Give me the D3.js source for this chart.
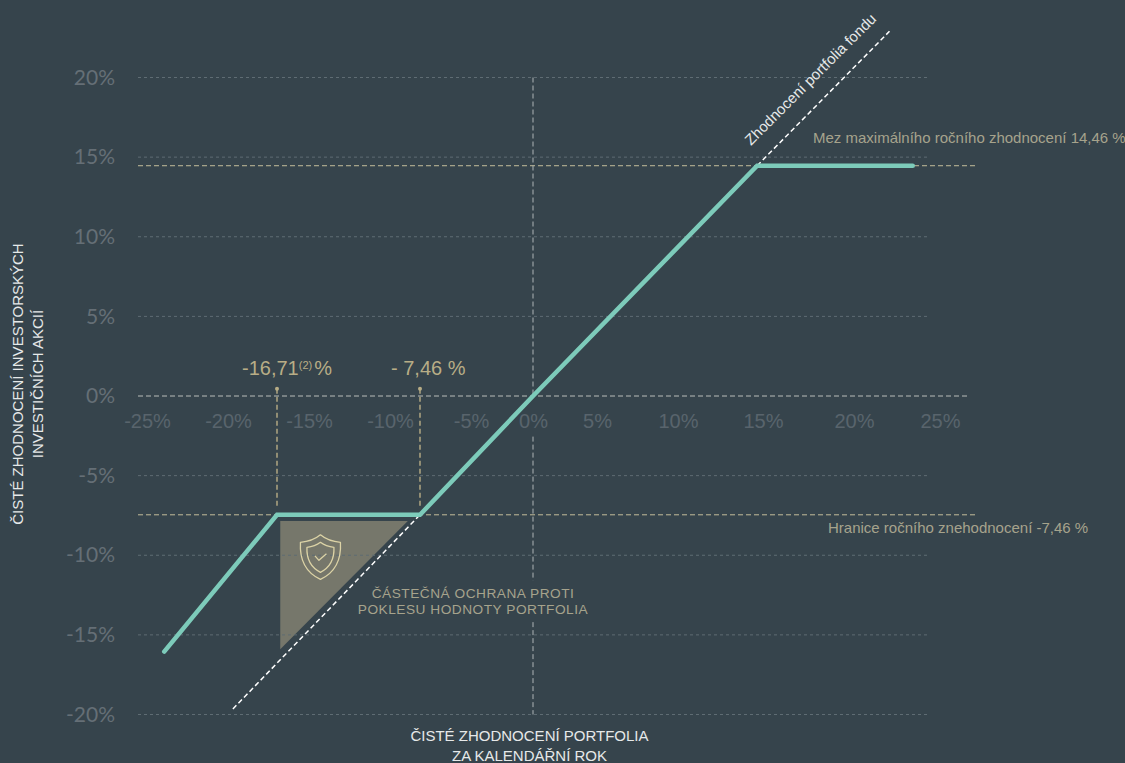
<!DOCTYPE html>
<html>
<head>
<meta charset="utf-8">
<script src="https://cdn.jsdelivr.net/npm/d3@7"></script>
<style>
    html, body { margin: 0; padding: 0; background: #36444c; }
    svg { display: block; }
    text { font-family: "Liberation Sans", Arial, sans-serif; }
    .y-axis text { font-family: Lato, sans-serif; font-size: 21px; fill: #656f76; }
    .x-axis text { font-size: 20px; fill: #59646c; }
    .tan { fill: #a6a38c; }
    .white { fill: #e6e9e9; }
</style>
</head>
<body>
<svg id="chart" width="1125" height="763"></svg>
<script>
// values
var yTicks = [20, 15, 10, 5, 0, -5, -10, -15, -20];
var xTicks = [-25, -20, -15, -10, -5, 0, 5, 10, 15, 20, 25];
var fundX = [-24.1, -16.71, -7.46, 0, 14.46, 24.5];
var fundY = [-16.05, -7.46, -7.46, 0, 14.46, 14.46];
// the dashed line only shows where it leaves the fund line
var portfolioLowX = [-19.6, -7.46];
var portfolioLowY = [-19.65, -7.46];
var portfolioHighX = [14.46, 23];
var portfolioHighY = [14.46, 22.9];
var protectionX = [-16.5, -8.25, -16.5];
var protectionY = [-7.85, -7.85, -15.9];
var floorValue = -7.46;
var capValue = 14.46;
var markers = [-16.71, -7.46];

var svg = d3.select('#chart');

var x = d3.scaleLinear().domain([-25, -16.71, -7.46, 0, 25]).range([150.5, 277, 420, 533, 920.5]);
var y = d3.scaleLinear().domain([-20, 20]).range([714.5, 77.5]);

// the tick labels in the picture are not evenly spaced
var xLabel = d3.scaleLinear().domain(xTicks)
    .range([147, 228, 309, 390, 471, 533, 597, 678, 763, 854, 940]);

var line = d3.line()
    .x(function(d) { return x(d[0]); })
    .y(function(d) { return y(d[1]); });

function hLine(value, x2, color, dash, width) {
    svg.append('line')
        .attr('x1', 138).attr('x2', x2)
        .attr('y1', y(value)).attr('y2', y(value))
        .attr('stroke', color)
        .attr('stroke-width', width)
        .attr('stroke-dasharray', dash);
}

function vLine(value, top, bottom, color, width) {
    svg.append('line')
        .attr('x1', x(value)).attr('x2', x(value))
        .attr('y1', y(top)).attr('y2', y(bottom))
        .attr('stroke', color)
        .attr('stroke-width', width)
        .attr('stroke-dasharray', '5 3');
}

//  protection triangle goes under the grid
svg.append('path')
    .attr('d', line(d3.zip(protectionX, protectionY)) + 'Z')
    .attr('fill', '#76776b');

yTicks.forEach(function(v) {
    if (v != 0) hLine(v, 928, '#5f6c73', '3 3', 1);
});
hLine(0, 967, '#b9bdb9', '5 3', 1);
hLine(capValue, 975, '#c3bd9b', '5 3', 1);
hLine(floorValue, 975, '#c3bd9b', '5 3', 1);

//  vertical zero line has gaps around the labels
vLine(0, 20, 0.05, '#aeb4b6', 1);
vLine(0, -2.55, -11.6, '#aeb4b6', 1);
vLine(0, -14.2, -20, '#aeb4b6', 1);

markers.forEach(function(m) {
    vLine(m, 0.45, -6.9, '#b8ad86', 1.4);
    svg.append('circle')
        .attr('cx', x(m))
        .attr('cy', y(0.45))
        .attr('r', 2)
        .attr('fill', '#b8ad86');
});

svg.append('g')
    .attr('class', 'y-axis')
    .attr('transform', 'translate(115,0)')
    .call(d3.axisLeft(y).tickValues(yTicks).tickSize(0).tickPadding(0)
        .tickFormat(function(d) { return d + '%'; }))
    .call(function(g) { g.select('.domain').remove(); });

svg.append('g')
    .attr('class', 'x-axis')
    .attr('transform', 'translate(0,414)')
    .call(d3.axisBottom(xLabel).tickValues(xTicks).tickSize(0).tickPadding(0)
        .tickFormat(function(d) { return d + '%'; }))
    .call(function(g) { g.select('.domain').remove(); });

[[portfolioLowX, portfolioLowY], [portfolioHighX, portfolioHighY]].forEach(function(s) {
    svg.append('path')
        .attr('d', line(d3.zip(s[0], s[1])))
        .attr('fill', 'none')
        .attr('stroke', '#fff')
        .attr('stroke-width', 1.5)
        .attr('stroke-dasharray', '5 3');
});

svg.append('path')
    .attr('d', line(d3.zip(fundX, fundY)))
    .attr('fill', 'none')
    .attr('stroke', '#7dcbba')
    .attr('stroke-width', 4.5)
    .attr('stroke-linecap', 'round')
    .attr('stroke-linejoin', 'miter');

// shield icon
var shield = svg.append('g')
    .attr('transform', 'translate(' + x(-13.9) + ',' + y(-10.1) + ')')
    .attr('fill', 'none')
    .attr('stroke', '#dcd3a6')
    .attr('stroke-width', 1.3)
    .attr('stroke-linejoin', 'round');
shield.append('path')
    .attr('d', 'M0,-22 C6,-17 13,-15 20,-14.5 C21,3 14,16 0,22.5 C-14,16 -21,3 -20,-14.5 C-13,-15 -6,-17 0,-22Z');
shield.append('path')
    .attr('d', 'M0,-14.5 C4,-11.5 9,-10 13.5,-9.5 C14,2 9,11 0,15.5 C-9,11 -14,2 -13.5,-9.5 C-9,-10 -4,-11.5 0,-14.5Z');
shield.append('path')
    .attr('d', 'M-5.5,-1 L-1.5,3.5 L6,-3');

// labels
function label(cls, xPos, yPos, size, anchor, str, spacing) {
    return svg.append('text')
        .attr('class', cls)
        .attr('x', xPos)
        .attr('y', yPos)
        .attr('text-anchor', anchor)
        .style('font-size', size + 'px')
        .style('letter-spacing', spacing || null)
        .text(str);
}

var pct1 = label('tan', 242, 375, 20, 'start', '-16,71');
pct1.style('fill', '#b8ad86');
pct1.append('tspan').attr('dy', -6).style('font-size', '11px').text('(2)');
pct1.append('tspan').attr('dy', 6).attr('dx', 2).text('%');
label('tan', 391, 375, 20, 'start', '- 7,46 %').style('fill', '#b8ad86');

label('tan', 813, 143, 15, 'start', 'Mez maximálního ročního zhodnocení 14,46 %');
label('tan', 828, 533, 15, 'start', 'Hranice ročního znehodnocení -7,46 %');
label('tan', 473, 598, 13.7, 'middle', 'ČÁSTEČNÁ OCHRANA PROTI', '0.5px');
label('tan', 473, 614, 13.7, 'middle', 'POKLESU HODNOTY PORTFOLIA', '0.5px');

label('white', 529.5, 741, 15, 'middle', 'ČISTÉ ZHODNOCENÍ PORTFOLIA');
label('white', 529.5, 761, 15, 'middle', 'ZA KALENDÁŘNÍ ROK');

svg.append('text')
    .attr('class', 'white')
    .attr('transform', 'translate(751,146) rotate(-45)')
    .style('font-size', '15px')
    .text('Zhodnocení portfolia fondu');

var yTitle = svg.append('g').attr('transform', 'translate(23,384) rotate(-90)');
yTitle.append('text').attr('class', 'white').attr('text-anchor', 'middle')
    .style('font-size', '15px').text('ČISTÉ ZHODNOCENÍ INVESTORSKÝCH');
yTitle.append('text').attr('class', 'white').attr('text-anchor', 'middle')
    .attr('y', 20).style('font-size', '15px').text('INVESTIČNÍCH AKCIÍ');
</script>
</body>
</html>
